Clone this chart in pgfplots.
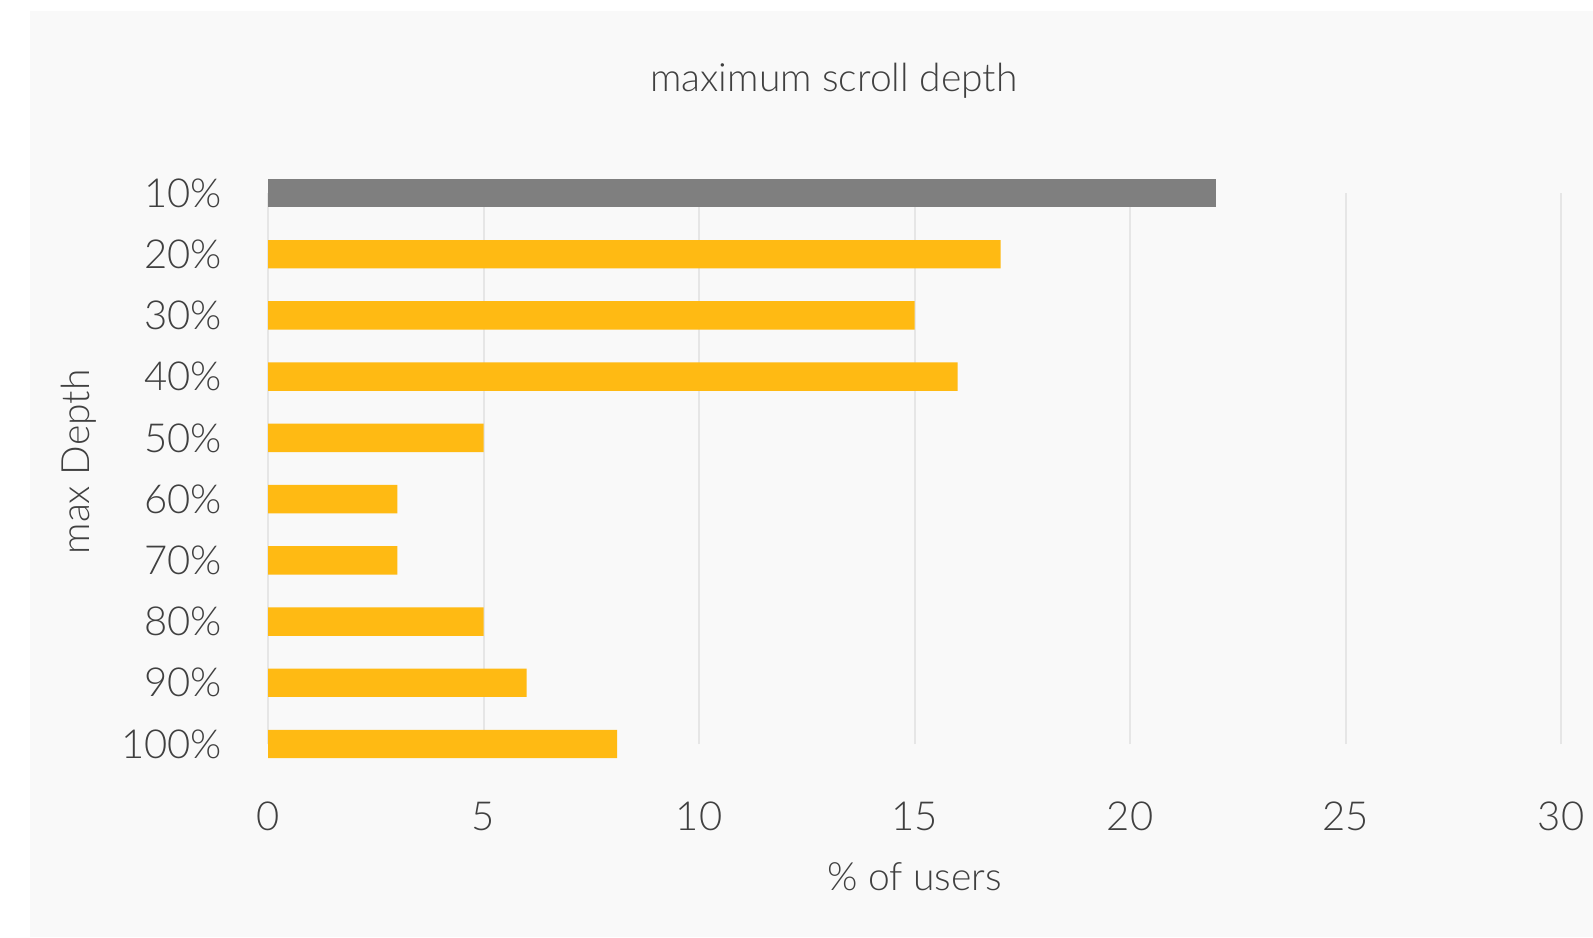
\documentclass[border=0pt]{standalone}
\usepackage{fontspec}
\setmainfont{Lato}[UprightFont={* Light}]
\usepackage{pgfplots}
\pgfplotsset{compat=1.18}
\definecolor{bg}{HTML}{F9F9F9}
\definecolor{gold}{HTML}{FFBA13}
\definecolor{bargray}{HTML}{7F7F7F}
\definecolor{gridc}{HTML}{E6E6E6}
\definecolor{txt}{HTML}{404040}
\begin{document}
\begin{tikzpicture}
\useasboundingbox (0,0) rectangle (796.5pt,468.5pt);
\fill[white] (0,0) rectangle (796.5pt,468.5pt);
\fill[bg] (15pt,0) rectangle (796.5pt,463pt);
\begin{axis}[
  at={(134pt,96.5pt)}, anchor=south west,
  scale only axis, width=646.5pt, height=275.5pt,
  xmin=0, xmax=30, ymin=1, ymax=10,
  xtick={0,5,...,30}, ytick={1,...,10},
  yticklabels={100\%,90\%,80\%,70\%,60\%,50\%,40\%,30\%,20\%,10\%},
  xmajorgrids, grid style={gridc, line width=1pt},
  axis line style={draw=none}, major tick length=0pt,
  clip=false,
  /pgf/number format/assume math mode=true,
  tick label style={font=\fontsize{20}{24}\selectfont, text=txt},
  xticklabel style={anchor=base, yshift=-43pt},
  yticklabel style={anchor=east, inner sep=0pt, xshift=-22.75pt},
  title={maximum scroll depth},
  title style={at={(rel axis cs:0.4377,1.163)}, anchor=base, font=\fontsize{19.5}{23}\selectfont, text=txt},
  xlabel={\% of users},
  xlabel style={at={(rel axis cs:0.5,-0.265)}, anchor=base, font=\fontsize{19.5}{23}\selectfont, text=txt},
  ylabel={max Depth},
  ylabel style={at={(rel axis cs:-0.146,0.512)}, anchor=center, font=\fontsize{19.5}{23}\selectfont, text=txt},
]
\addplot[xbar, bar width=14.2pt, bar shift=0pt, fill=gold, draw=none]
  coordinates {(8.1,1) (6,2) (5,3) (3,4) (3,5) (5,6) (16,7) (15,8) (17,9)};
\addplot[xbar, bar width=14.2pt, bar shift=0pt, fill=bargray, draw=none]
  coordinates {(22,10)};
\end{axis}
\end{tikzpicture}
\end{document}
